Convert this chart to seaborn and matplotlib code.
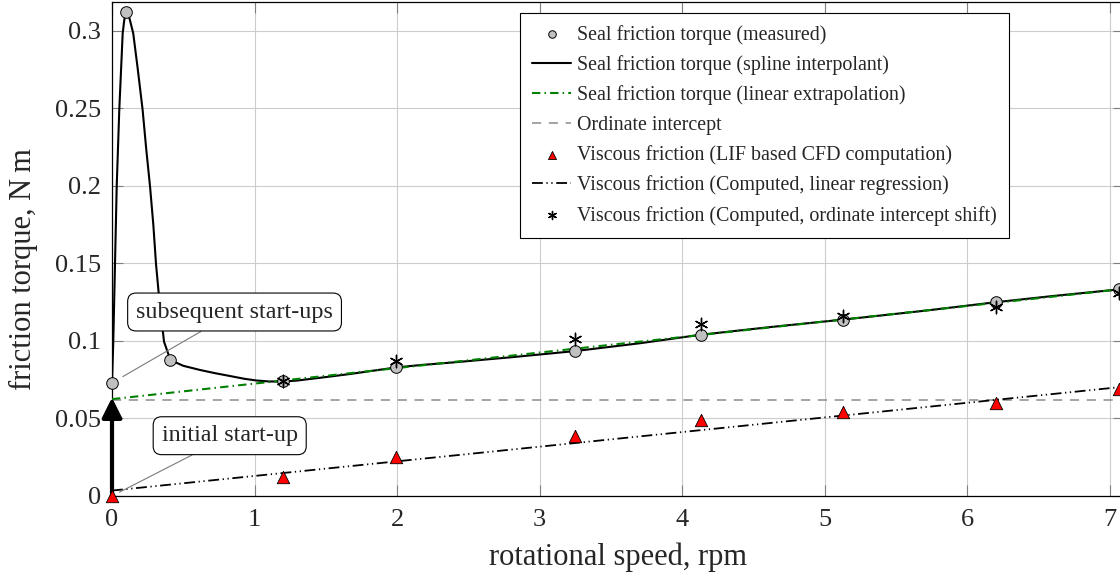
import matplotlib
matplotlib.use("Agg")
import matplotlib.pyplot as plt
import seaborn as sns

# ---------------- data ----------------
meas_speed = [0.0, 0.10, 0.41, 1.20, 1.99, 3.25, 4.13, 5.13, 6.20, 7.07]
meas_torque = [0.073, 0.3125, 0.0877, 0.0740, 0.0830, 0.0935, 0.1040, 0.1138, 0.1250, 0.1333]

spline_speed = [0.0, 0.009, 0.021, 0.033, 0.051, 0.075, 0.086, 0.096, 0.103, 0.112,
                0.126, 0.149, 0.18, 0.215, 0.24, 0.267, 0.29, 0.309, 0.332, 0.365,
                0.41, 0.5, 0.618, 0.72, 0.851, 0.93, 1.015, 1.1, 1.202, 1.3, 1.436,
                1.55, 1.67, 1.83, 1.998, 2.18, 2.372, 2.8, 3.25, 3.7, 4.13, 4.6, 5.13,
                5.7, 6.2, 6.6, 7.07]
spline_torque = [0.073, 0.0996, 0.1495, 0.1996, 0.249, 0.2985, 0.307, 0.3115, 0.3125, 0.3115,
                 0.307, 0.2985, 0.276, 0.249, 0.224, 0.1996, 0.175, 0.1495, 0.1265, 0.0996,
                 0.0877, 0.0840, 0.0813, 0.0793, 0.0770, 0.0756, 0.0745, 0.0739, 0.0738, 0.0745,
                 0.0760, 0.0773, 0.0787, 0.0808, 0.0830, 0.0846, 0.0860, 0.0895, 0.0935, 0.0985,
                 0.1040, 0.1088, 0.1138, 0.1195, 0.1250, 0.1290, 0.1333]

extrap_speed = [0.0, 7.07]
extrap_torque = [0.0625, 0.1333]

intercept_speed = [0.0, 7.1]
intercept_torque = [0.062, 0.062]

cfd_speed = [0.0, 1.20, 1.99, 3.25, 4.13, 5.13, 6.20, 7.07]
cfd_torque = [0.0, 0.0120, 0.0254, 0.0390, 0.0490, 0.0544, 0.0600, 0.0688]

reg_speed = [0.0, 7.1]
reg_torque = [0.0035, 0.0705]

shift_speed = [1.20, 1.99, 3.25, 4.13, 5.13, 6.20, 7.07]
shift_torque = [0.0740, 0.0874, 0.1010, 0.1110, 0.1164, 0.1220, 0.1308]

x_ticks = [0, 1, 2, 3, 4, 5, 6, 7]
y_ticks = [0, 0.05, 0.1, 0.15, 0.2, 0.25, 0.3]
y_tick_labels = ["0", "0.05", "0.1", "0.15", "0.2", "0.25", "0.3"]

labels = [
    "Seal friction torque (measured)",
    "Seal friction torque (spline interpolant)",
    "Seal friction torque (linear extrapolation)",
    "Ordinate intercept",
    "Viscous friction (LIF based CFD computation)",
    "Viscous friction (Computed, linear regression)",
    "Viscous friction (Computed, ordinate intercept shift)",
]

# ---------------- style ----------------
sns.set_theme(style="whitegrid")
plt.rcParams["font.family"] = ["Liberation Serif", "DejaVu Serif"]

fig = plt.figure(figsize=(11.2, 5.78), dpi=100)
W, H = 1120, 578
ax = fig.add_axes([112 / W, 82 / H, 1011.75 / W, 494 / H])
ax.set_facecolor("white")

# lines
sns.lineplot(x=intercept_speed, y=intercept_torque, ax=ax, color="#8c8c8c", lw=1.1,
             linestyle=(0, (6, 5)), label=labels[3], zorder=2, sort=False, estimator=None)
sns.lineplot(x=spline_speed, y=spline_torque, ax=ax, color="black", lw=1.5,
             label=labels[1], zorder=3, sort=False, estimator=None)
sns.lineplot(x=extrap_speed, y=extrap_torque, ax=ax, color="#008000", lw=1.5,
             linestyle=(0, (4, 2, 0.7, 2)), label=labels[2], zorder=4, sort=False, estimator=None)
sns.lineplot(x=reg_speed, y=reg_torque, ax=ax, color="black", lw=1.3,
             linestyle=(0, (6, 2, 0.7, 2, 0.7, 2)), label=labels[5], zorder=4, sort=False,
             estimator=None)

# thick arrow: initial start-up from zero to ordinate intercept
ax.annotate("", xy=(cfd_speed[0], intercept_torque[0] + 0.0015),
            xytext=(cfd_speed[0], cfd_torque[0]),
            arrowprops=dict(arrowstyle="-|>,head_length=0.6,head_width=0.3", lw=3,
                            color="black", shrinkA=0, shrinkB=0, mutation_scale=20),
            zorder=5, annotation_clip=False)

# markers
sns.scatterplot(x=meas_speed, y=meas_torque, ax=ax, marker="o", s=70, color="#c0c0c0",
                edgecolor="black", linewidth=0.7, label=labels[0], zorder=6, clip_on=False)
sns.scatterplot(x=cfd_speed, y=cfd_torque, ax=ax, marker="^", s=80, color="#ff0000",
                edgecolor="black", linewidth=0.6, label=labels[4], zorder=6, clip_on=False)
sns.scatterplot(x=shift_speed, y=shift_torque, ax=ax, marker=(6, 2, 0), s=80, color="black",
                edgecolor="black", linewidth=1.0, label=labels[6], zorder=7, clip_on=False)

# annotation boxes
box = dict(boxstyle="round,pad=0.35,rounding_size=0.35", fc="white", ec="black", lw=0.8)
ax.annotate("subsequent start-ups", xy=(meas_speed[0], meas_torque[0]),
            xytext=(0.86, 0.1187), ha="center", va="center", fontsize=17.4, bbox=box,
            arrowprops=dict(arrowstyle="-", color="#7a7a7a", lw=0.8, shrinkA=0, shrinkB=9),
            zorder=8)
ax.annotate("initial start-up", xy=(cfd_speed[0], cfd_torque[0]),
            xytext=(0.826, 0.0389), ha="center", va="center", fontsize=17.4, bbox=box,
            arrowprops=dict(arrowstyle="-", color="#7a7a7a", lw=0.8, shrinkA=0, shrinkB=6),
            zorder=8)

# axes
ax.set_xlim(0, 7.1)
ax.set_ylim(0, 0.3187)
ax.set_xticks(x_ticks)
ax.set_xticklabels([str(t) for t in x_ticks])
ax.set_yticks(y_ticks)
ax.set_yticklabels(y_tick_labels)
ax.tick_params(axis="both", which="major", direction="in", length=8, width=0.8,
               color="#7f7f7f", labelsize=19, top=True, right=True, bottom=True, left=True)
ax.tick_params(axis="x", pad=9)
ax.tick_params(axis="y", pad=8)
ax.grid(True, color="#cccccc", lw=0.8)
ax.set_axisbelow(True)
for side in ["left", "bottom", "top"]:
    ax.spines[side].set_visible(True)
    ax.spines[side].set_color("black")
    ax.spines[side].set_linewidth(0.9)
ax.spines["right"].set_visible(False)

ax.set_xlabel("rotational speed, rpm", fontsize=22)
ax.set_ylabel("friction torque, N\u2009m", fontsize=22)
ax.xaxis.set_label_coords(0.5, -0.1235)
ax.xaxis.label.set_va("center")
ax.yaxis.set_label_coords(-0.087, 0.4595)
ax.yaxis.label.set_va("center")

# legend
handles, labs = ax.get_legend_handles_labels()
hmap = dict(zip(labs, handles))
leg = ax.legend([hmap[l] for l in labels], labels, loc="upper right",
                bbox_to_anchor=(1009 / W, 1 - 12.7 / H), bbox_transform=fig.transFigure,
                borderaxespad=0, fontsize=14.4, frameon=True, fancybox=False,
                framealpha=1, edgecolor="black", borderpad=0.6, labelspacing=0.52,
                handlelength=1.95, handletextpad=0.3, markerscale=0.65)
leg.get_frame().set_linewidth(0.8)
leg.set_zorder(10)

fig.savefig("out.png", dpi=100)
